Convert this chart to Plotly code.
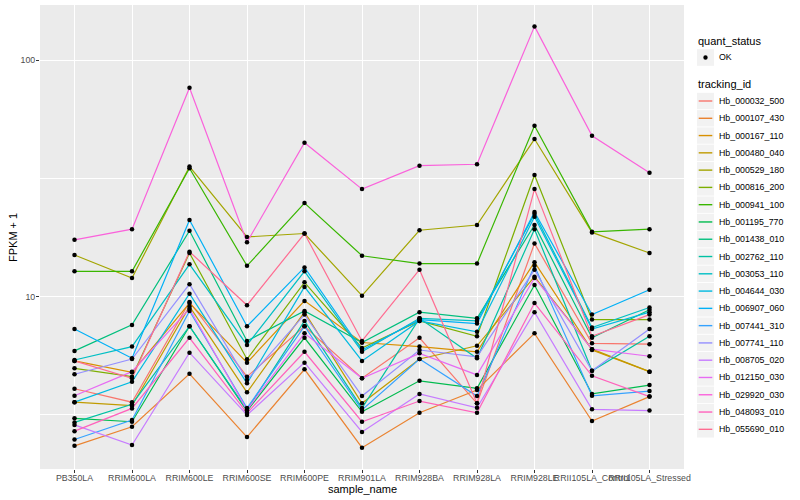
import plotly.graph_objects as go

samples = ["PB350LA", "RRIM600LA", "RRIM600LE", "RRIM600SE", "RRIM600PE", "RRIM901LA",
           "RRIM928BA", "RRIM928LA", "RRIM928LE", "RRII105LA_Control", "RRII105LA_Stressed"]

tracking_ids = ["Hb_000032_500", "Hb_000107_430", "Hb_000167_110", "Hb_000480_040", "Hb_000529_180",
                "Hb_000816_200", "Hb_000941_100", "Hb_001195_770", "Hb_001438_010", "Hb_002762_110",
                "Hb_003053_110", "Hb_004644_030", "Hb_006907_060", "Hb_007441_310", "Hb_007741_110",
                "Hb_008705_020", "Hb_012150_030", "Hb_029920_030", "Hb_048093_010", "Hb_055690_010"]

colors = ["#F8766D", "#EA8331", "#D89000", "#C09B00", "#A3A500", "#7CAE00", "#39B600", "#00BB4E",
          "#00BF7D", "#00C1A3", "#00BFC4", "#00BAE0", "#00B0F6", "#35A2FF", "#9590FF", "#C77CFF",
          "#E76BF3", "#FA62DB", "#FF62BC", "#FF6C91"]

# FPKM + 1 values per tracking id, in sample order
hb_000032_500 = [4.08, 3.58, 9.5, 4.59, 7.5, 4.52, 6.7, 3.54, 16.8, 6.35, 6.3]
hb_000107_430 = [2.34, 2.82, 4.72, 2.55, 4.93, 2.30, 3.23, 4.03, 7.0, 2.98, 3.78]
hb_000167_110 = [5.35, 4.79, 9.4, 5.26, 9.6, 6.4, 6.15, 5.85, 14.0, 5.95, 4.82]
hb_000480_040 = [3.58, 3.46, 9.1, 3.94, 8.6, 3.54, 5.45, 6.2, 12.15, 6.0, 4.82]
hb_000529_180 = [15.0, 12.0, 35.5, 17.9, 18.5, 10.1, 19.1, 20.1, 46.4, 18.7, 15.3]
hb_000816_200 = [4.98, 4.59, 15.3, 5.44, 11.5, 6.07, 7.9, 6.8, 32.7, 8.0, 8.0]
hb_000941_100 = [12.8, 12.8, 34.9, 13.5, 24.9, 14.9, 13.8, 13.8, 52.8, 18.8, 19.3]
hb_001195_770 = [3.06, 2.96, 7.5, 3.29, 6.7, 3.26, 4.41, 4.10, 11.2, 3.88, 4.23]
hb_001438_010 = [5.9, 7.6, 19.0, 6.5, 8.7, 6.4, 8.6, 8.1, 20.1, 6.7, 8.8]
hb_002762_110 = [2.94, 3.51, 7.5, 3.32, 7.9, 3.38, 8.1, 5.49, 19.3, 4.86, 6.8]
hb_003053_110 = [5.4, 6.15, 13.7, 6.25, 12.8, 5.85, 8.1, 7.9, 22.4, 7.4, 9.0]
hb_004644_030 = [3.58, 4.37, 10.3, 4.30, 11.0, 5.35, 7.9, 7.1, 21.8, 7.3, 8.6]
hb_006907_060 = [7.3, 5.49, 21.1, 7.5, 13.3, 5.95, 8.0, 7.7, 22.8, 8.4, 10.7]
hb_007441_310 = [2.49, 3.01, 8.7, 3.38, 7.5, 3.32, 5.45, 3.80, 13.5, 3.81, 3.99]
hb_007741_110 = [4.70, 5.45, 11.3, 4.44, 8.4, 3.80, 5.95, 5.57, 13.0, 4.86, 7.3]
hb_008705_020 = [2.87, 2.36, 5.8, 3.16, 5.26, 2.68, 3.88, 3.39, 8.6, 3.34, 3.30]
hb_012150_030 = [3.81, 4.82, 8.9, 3.32, 7.0, 4.52, 5.76, 4.67, 12.0, 6.0, 5.6]
hb_029920_030 = [17.4, 19.3, 76.5, 17.0, 44.8, 28.5, 35.8, 36.3, 139.0, 47.9, 33.4]
hb_048093_010 = [2.70, 3.37, 6.7, 3.22, 5.85, 2.96, 3.62, 3.23, 9.4, 4.63, 3.78]
hb_055690_010 = [5.35, 4.52, 15.5, 9.2, 18.5, 6.5, 13.0, 3.54, 28.5, 6.8, 8.4]

series_values = [hb_000032_500, hb_000107_430, hb_000167_110, hb_000480_040, hb_000529_180,
                 hb_000816_200, hb_000941_100, hb_001195_770, hb_001438_010, hb_002762_110,
                 hb_003053_110, hb_004644_030, hb_006907_060, hb_007441_310, hb_007741_110,
                 hb_008705_020, hb_012150_030, hb_029920_030, hb_048093_010, hb_055690_010]

y_tick_vals = [10, 100]
y_tick_text = ["10", "100"]
y_minor_vals = [3.1623, 31.623]

FONT = "Liberation Sans, Arial, Helvetica, sans-serif"

fig = go.Figure()

for name, col, vals in zip(tracking_ids, colors, series_values):
    fig.add_trace(go.Scatter(x=samples, y=vals, mode="lines", name=name,
                             line=dict(color=col, width=1.2), showlegend=False,
                             hoverinfo="x+y+name"))

all_x = []
all_y = []
for vals in series_values:
    all_x.extend(samples)
    all_y.extend(vals)
fig.add_trace(go.Scatter(x=all_x, y=all_y, mode="markers", name="OK",
                         marker=dict(color="black", size=4.5, line=dict(width=0)),
                         showlegend=False))

# layout geometry (pixels)
W, H = 800, 500
L, R, T, B = 40, 116, 5, 31
pw = W - L - R
ph = H - T - B


def px2x(px):
    return (px - L) / pw


def px2y(py):
    return (H - B - py) / ph


shapes = []
annotations = []

# axis titles
annotations.append(dict(text="sample_name", x=px2x(362), y=px2y(488.5), xref="paper", yref="paper",
                        showarrow=False, xanchor="center", yanchor="middle",
                        font=dict(family=FONT, size=11, color="black")))
annotations.append(dict(text="FPKM + 1", x=px2x(13), y=px2y(237), xref="paper", yref="paper",
                        showarrow=False, xanchor="center", yanchor="middle", textangle=-90,
                        font=dict(family=FONT, size=11, color="black")))

# legend: quant_status
annotations.append(dict(text="quant_status", x=px2x(696), y=px2y(40.7), xref="paper", yref="paper",
                        showarrow=False, xanchor="left", yanchor="middle",
                        font=dict(family=FONT, size=11, color="black")))
shapes.append(dict(type="rect", xref="paper", yref="paper",
                   x0=px2x(697), x1=px2x(714), y0=px2y(49.2), y1=px2y(65.8),
                   fillcolor="#F2F2F2", line=dict(width=0), layer="below"))
shapes.append(dict(type="circle", xref="paper", yref="paper",
                   x0=px2x(703.3), x1=px2x(707.7), y0=px2y(55.3), y1=px2y(59.7),
                   fillcolor="black", line=dict(width=0)))
annotations.append(dict(text="OK", x=px2x(716.5), y=px2y(57.5), xref="paper", yref="paper",
                        showarrow=False, xanchor="left", yanchor="middle",
                        font=dict(family=FONT, size=8.8, color="black")))

# legend: tracking_id
annotations.append(dict(text="tracking_id", x=px2x(696), y=px2y(84.3), xref="paper", yref="paper",
                        showarrow=False, xanchor="left", yanchor="middle",
                        font=dict(family=FONT, size=11, color="black")))
for i, (name, col) in enumerate(zip(tracking_ids, colors)):
    cy = 101 + 17.28 * i
    shapes.append(dict(type="rect", xref="paper", yref="paper",
                       x0=px2x(697), x1=px2x(714), y0=px2y(cy - 8.2), y1=px2y(cy + 8.2),
                       fillcolor="#F2F2F2", line=dict(width=0), layer="below"))
    shapes.append(dict(type="line", xref="paper", yref="paper",
                       x0=px2x(698.7), x1=px2x(712.3), y0=px2y(cy), y1=px2y(cy),
                       line=dict(color=col, width=1.4)))
    annotations.append(dict(text=name, x=px2x(716.5), y=px2y(cy), xref="paper", yref="paper",
                            showarrow=False, xanchor="left", yanchor="middle",
                            font=dict(family=FONT, size=8.8, color="black")))

fig.update_layout(
    width=W, height=H,
    margin=dict(l=L, r=R, t=T, b=B, pad=0),
    paper_bgcolor="white",
    plot_bgcolor="#EBEBEB",
    showlegend=False,
    shapes=shapes,
    annotations=annotations,
    font=dict(family=FONT, size=8.8, color="#4D4D4D"),
    xaxis=dict(type="category", categoryorder="array", categoryarray=samples,
               range=[-0.6, len(samples) - 0.4], showgrid=True, gridcolor="white", gridwidth=1.4,
               ticks="outside", ticklen=3, tickwidth=1.2, tickcolor="#333333", tickangle=0,
               ticklabelstandoff=-3,
               tickfont=dict(family=FONT, size=8.8, color="#4D4D4D"),
               showline=False, zeroline=False, fixedrange=True),
    yaxis=dict(type="log", range=[0.2714, 2.2334], tickmode="array", tickvals=y_tick_vals,
               ticktext=y_tick_text, showgrid=True, gridcolor="white", gridwidth=1.4,
               ticks="outside", ticklen=3, tickwidth=1.2, tickcolor="#333333",
               ticklabelstandoff=-1,
               tickfont=dict(family=FONT, size=8.8, color="#4D4D4D"),
               minor=dict(tickmode="array", tickvals=y_minor_vals, showgrid=True,
                          gridcolor="white", gridwidth=0.7, ticks=""),
               showline=False, zeroline=False, fixedrange=True),
)

fig.write_html("out.html", config={"displayModeBar": False},
               post_script="document.body.style.margin='0';document.body.style.overflow='hidden';")
